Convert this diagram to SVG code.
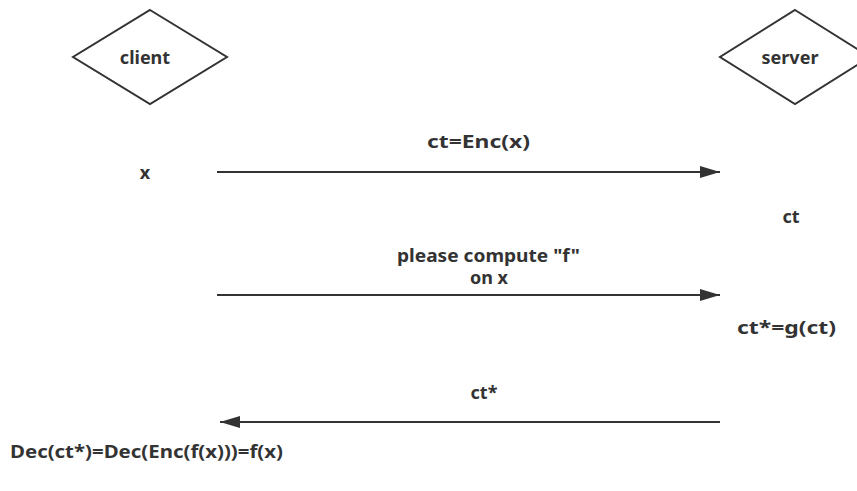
<svg xmlns="http://www.w3.org/2000/svg" width="857" height="491" viewBox="0 0 857 491">
<style>
text{font-family:"Noto Sans","Open Sans","Liberation Sans",sans-serif;font-weight:bold;font-size:18px;fill:#333;}
.shape{fill:#fff;stroke:#333;stroke-width:2;}
.conn{stroke:#333;stroke-width:2;fill:none;}
</style>
<defs>
<marker id="ah" markerWidth="20" markerHeight="12" refX="20" refY="6" orient="auto" markerUnits="userSpaceOnUse">
<path d="M0,0 L20,6 L0,12 Z" fill="#333"/>
</marker>
</defs>
<rect width="857" height="491" fill="#fff"/>
<g id="client">
<polygon class="shape" points="150,10 227,57 150,104 73,57"/>
<text x="145" y="64" text-anchor="middle">client</text>
</g>
<g id="server">
<polygon class="shape" points="795,10 870,57 795,104 720,57"/>
<text x="790" y="64" text-anchor="middle">server</text>
</g>
<g id="connectors">
<line class="conn" x1="217" y1="172" x2="720" y2="172" marker-end="url(#ah)"/>
<line class="conn" x1="217" y1="295" x2="720" y2="295" marker-end="url(#ah)"/>
<line class="conn" x1="720" y1="422" x2="220" y2="422" marker-end="url(#ah)"/>
</g>
<g id="labels">
<text x="427" y="148" textLength="103" lengthAdjust="spacingAndGlyphs">ct=Enc(x)</text>
<text x="397" y="262" textLength="183" lengthAdjust="spacingAndGlyphs">please compute "f"</text>
<text x="489" y="284" text-anchor="middle">on x</text>
<text x="484" y="399" text-anchor="middle">ct*</text>
<text x="145" y="179" text-anchor="middle">x</text>
<text x="791" y="223" text-anchor="middle">ct</text>
<text x="737" y="334" textLength="99" lengthAdjust="spacingAndGlyphs">ct*=g(ct)</text>
<text x="10" y="458" textLength="273" lengthAdjust="spacingAndGlyphs">Dec(ct*)=Dec(Enc(f(x)))=f(x)</text>
</g>
</svg>
